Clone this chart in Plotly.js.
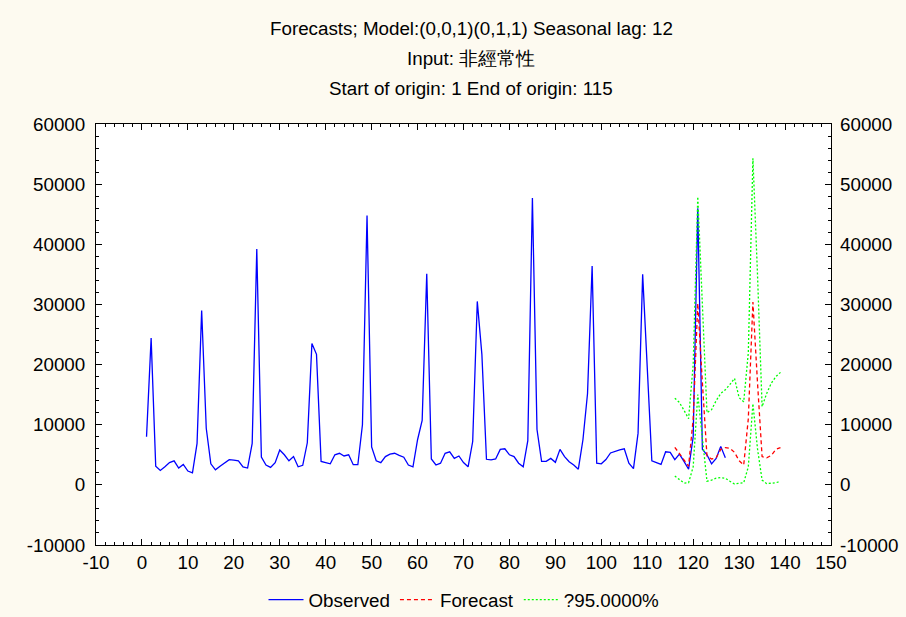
<!DOCTYPE html>
<html>
<head>
<meta charset="utf-8">
<script src="https://cdn.plot.ly/plotly-3.0.1.min.js"></script>
<style>
  html, body { margin: 0; padding: 0; background: #FDFAF0; }
  #chart { width: 906px; height: 617px; }
</style>
</head>
<body>
<div id="chart"></div>
<script>
// ---- Data ----
const titleLines = [
  "Forecasts; Model:(0,0,1)(0,1,1) Seasonal lag: 12",
  "Input: 非經常性",
  "Start of origin: 1 End of origin: 115"
];
const seriesNames = ["Observed", "Forecast", "?95.0000%"];

const xTickValues = [-10, 0, 10, 20, 30, 40, 50, 60, 70, 80, 90, 100, 110, 120, 130, 140, 150];
const xTickLabels = ["-10", "0", "10", "20", "30", "40", "50", "60", "70", "80", "90", "100", "110", "120", "130", "140", "150"];
const yTickValues = [-10000, 0, 10000, 20000, 30000, 40000, 50000, 60000];
const yTickLabels = ["-10000", "0", "10000", "20000", "30000", "40000", "50000", "60000"];

const observedStart = 1;
const observed = [
  8000, 24400, 3100, 2400, 3000, 3700, 4000, 2800, 3400, 2300,
  2000, 6900, 29000, 9400, 3500, 2500, 3100, 3700, 4200, 4100,
  4000, 3000, 2800, 6900, 39200, 4600, 3300, 2900, 3700, 5800,
  5000, 4000, 4700, 3000, 3250, 7000, 23500, 21700, 3900, 3700,
  3500, 5000, 5250, 4800, 5000, 3350, 3350, 10000, 44800, 6300,
  4000, 3700, 4700, 5100, 5250, 4900, 4600, 3300, 3000, 7500,
  10700, 35100, 4300, 3300, 3600, 5250, 5500, 4400, 4800, 3700,
  3000, 7200, 30500, 21700, 4250, 4150, 4300, 5900, 6000, 5000,
  4700, 3600, 3000, 7350, 47700, 9200, 3900, 3900, 4400, 3750,
  5900, 4700, 3850, 3300, 2600, 7500, 15200, 36400, 3600, 3500,
  4200, 5300, 5600, 5800, 6000, 3600, 2700, 8600, 35000, 19000,
  4000, 3700, 3400, 5500, 5400, 4200, 5100, 3900, 2600, 8000,
  46000, 5900, 5000, 3500, 4400, 6400, 4500
];

const forecastStart = 116;
const forecast = [
  6250, 5200, 4000, 3100, 11000, 30200, 17000, 4800, 4300, 4500,
  5900, 6200, 6100, 5400, 4000, 3300, 11000, 30400, 17000, 4700,
  4500, 4900, 5900, 6200
];
const upper95 = [
  14400, 13700, 12400, 11000, 20000, 47900, 30000, 12000, 12500, 14000,
  15200, 15800, 16700, 17700, 14500, 13800, 22000, 54300, 35000, 13000,
  15200, 16900, 18000, 18700
];
const lower95 = [
  1480, 900, 300, 350, 3000, 15000, 8000, 600, 800, 1100,
  1200, 1100, 600, 150, 250, 350, 3000, 13500, 6000, 800,
  200, 250, 350, 600
];

// ---- Build x positions from the start indices ----
const xObs = Array.from(observed, (_, i) => observedStart + i);
const xFc = Array.from(forecast, (_, i) => forecastStart + i);

const FONT = "'Liberation Sans', Arial, sans-serif";
const FS = 18.8;

const traces = [
  {
    x: xObs, y: observed, type: "scatter", mode: "lines",
    name: seriesNames[0],
    line: { color: "rgb(0,0,255)", width: 1.3 }
  },
  {
    x: xFc, y: forecast, type: "scatter", mode: "lines",
    name: seriesNames[1],
    line: { color: "rgb(255,0,0)", width: 1.3, dash: "4px,3px" }
  },
  {
    x: xFc, y: upper95, type: "scatter", mode: "lines",
    name: seriesNames[2], legendgroup: "ci",
    line: { color: "rgb(0,255,0)", width: 1.3, dash: "2px,2px" }
  },
  {
    x: xFc, y: lower95, type: "scatter", mode: "lines", yaxis: "y2",
    name: seriesNames[2], legendgroup: "ci", showlegend: false,
    line: { color: "rgb(0,255,0)", width: 1.3, dash: "2px,2px" }
  }
];

const axisCommon = {
  showgrid: false, zeroline: false,
  showline: true, linecolor: "black", linewidth: 1,
  ticks: "inside", ticklen: 6, tickcolor: "black", tickwidth: 1,
  tickfont: { family: FONT, size: FS, color: "black" }
};

const titleY = [29, 59, 89];
const plotTop = 124, plotBottom = 545, plotLeft = 96, plotRight = 831;
const annotations = titleLines.map((txt, i) => ({
  text: txt, xref: "paper", yref: "paper",
  x: (471 - plotLeft) / (plotRight - plotLeft),
  y: (plotBottom - titleY[i]) / (plotBottom - plotTop),
  xanchor: "center", yanchor: "middle", showarrow: false,
  font: { family: FONT, size: FS, color: "black" }
}));

const layout = {
  width: 906, height: 617,
  margin: { l: plotLeft, r: 906 - plotRight, t: plotTop, b: 617 - plotBottom, pad: 0, autoexpand: false },
  paper_bgcolor: "#FDFAF0",
  plot_bgcolor: "white",
  font: { family: FONT, size: FS, color: "black" },
  showlegend: true,
  legend: {
    orientation: "h", x: (464 - plotLeft) / (plotRight - plotLeft), xanchor: "center",
    y: (plotBottom - 600) / (plotBottom - plotTop), yanchor: "middle",
    font: { family: FONT, size: FS, color: "black" },
    bgcolor: "rgba(0,0,0,0)", itemwidth: 35
  },
  xaxis: Object.assign({}, axisCommon, {
    range: [-10, 150], tickmode: "array", tickvals: xTickValues, ticktext: xTickLabels,
    mirror: "ticks", ticklabelstandoff: 0,
    minor: { dtick: 2, tick0: 0, ticks: "inside", ticklen: 3, tickcolor: "black", showgrid: false }
  }),
  yaxis: Object.assign({}, axisCommon, {
    range: [-10000, 60000], tickmode: "array", tickvals: yTickValues, ticktext: yTickLabels,
    mirror: "ticks", ticklabelstandoff: 6,
    minor: { dtick: 2000, tick0: 0, ticks: "inside", ticklen: 3, tickcolor: "black", showgrid: false }
  }),
  yaxis2: Object.assign({}, axisCommon, {
    overlaying: "y", side: "right", anchor: "x", matches: "y",
    range: [-10000, 60000], tickmode: "array", tickvals: yTickValues, ticktext: yTickLabels,
    showline: false, ticks: "", ticklabelstandoff: 8
  }),
  annotations: annotations
};

Plotly.newPlot("chart", traces, layout, { staticPlot: true, displayModeBar: false });
</script>
</body>
</html>
